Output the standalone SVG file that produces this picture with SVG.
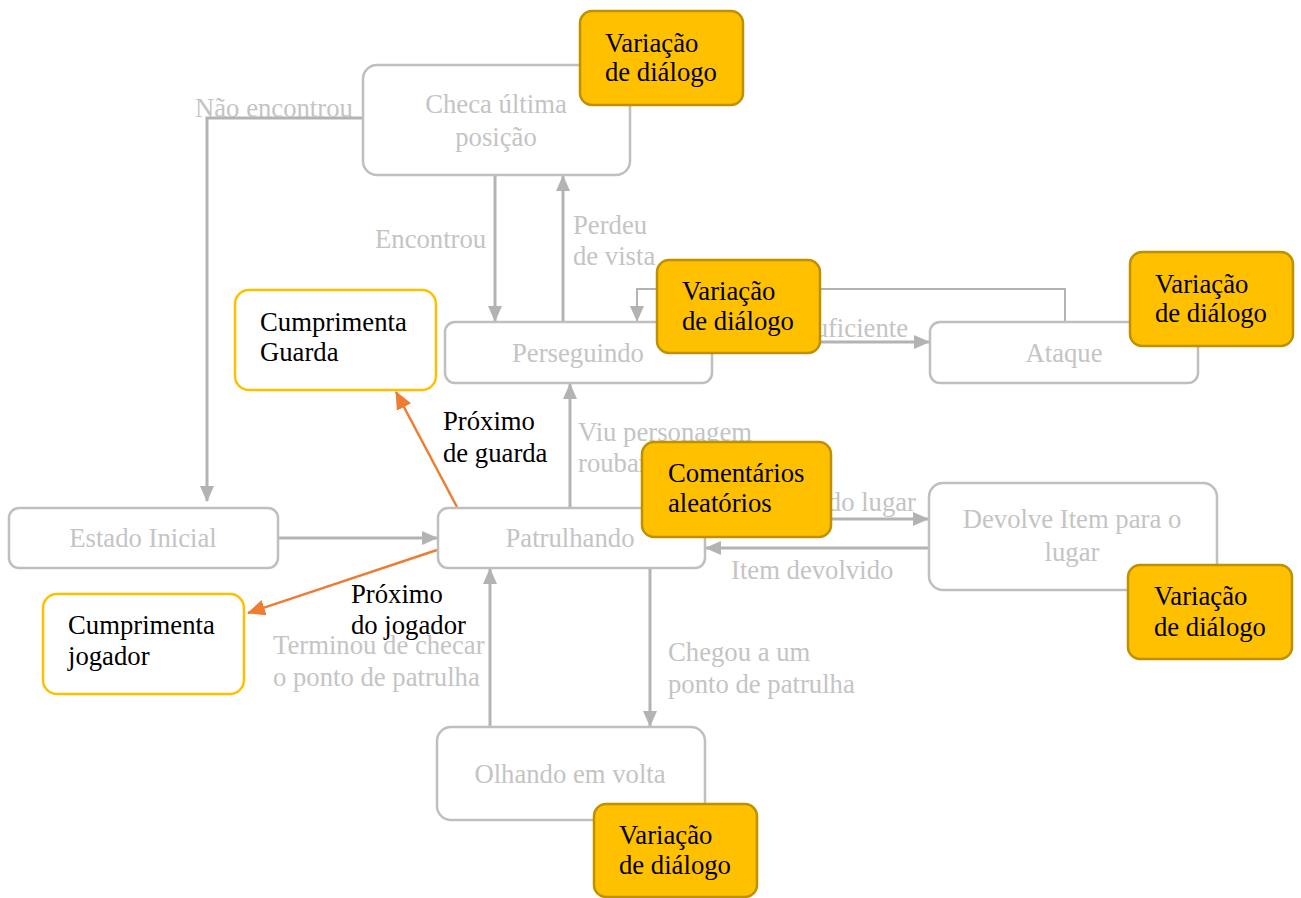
<svg xmlns="http://www.w3.org/2000/svg" width="1301" height="898" viewBox="0 0 1301 898">
<defs>
<marker id="ag" markerUnits="userSpaceOnUse" markerWidth="16" markerHeight="14" refX="15" refY="7" orient="auto"><path d="M0,0 L16,7 L0,14 Z" fill="#b3b3b3"/></marker>
<marker id="ao" markerUnits="userSpaceOnUse" markerWidth="18" markerHeight="16" refX="17" refY="8" orient="auto"><path d="M0,0 L18,8 L0,16 Z" fill="#ED7D31"/></marker>
</defs>
<rect width="1301" height="898" fill="#fff"/>
<g id="connectors" fill="none" stroke="#b3b3b3" stroke-width="3">
<path d="M363,118 H207 V501" marker-end="url(#ag)"/>
<path d="M495,175 V321" marker-end="url(#ag)"/>
<path d="M563,322 V176" marker-end="url(#ag)"/>
<path d="M1065,322 V289 H637 V321" stroke-width="2" marker-end="url(#ag)"/>
<path d="M712,342 H929" marker-end="url(#ag)"/>
<path d="M570,508 V384" marker-end="url(#ag)"/>
<path d="M278,538 H437" marker-end="url(#ag)"/>
<path d="M705,519 H928" marker-end="url(#ag)"/>
<path d="M929,548 H706" marker-end="url(#ag)"/>
<path d="M490,727 V569" marker-end="url(#ag)"/>
<path d="M650,568 V726" marker-end="url(#ag)"/>
<path d="M457,507 L396,392" stroke="#ED7D31" stroke-width="2.5" marker-end="url(#ao)"/>
<path d="M437,550 L248,613" stroke="#ED7D31" stroke-width="2.5" marker-end="url(#ao)"/>
<text stroke="none" fill="#c4c4c4" font-family="Liberation Serif" font-size="26.7" x="195" y="117">Não encontrou</text>
<text stroke="none" fill="#c4c4c4" font-family="Liberation Serif" font-size="26.7" x="375" y="248">Encontrou</text>
<text stroke="none" fill="#c4c4c4" font-family="Liberation Serif" font-size="26.7" x="573" y="234">Perdeu</text>
<text stroke="none" fill="#c4c4c4" font-family="Liberation Serif" font-size="26.7" x="573" y="265">de vista</text>
<text stroke="none" fill="#c4c4c4" font-family="Liberation Serif" font-size="26.7" x="908" y="337" text-anchor="end">suficiente</text>
<text stroke="none" fill="#c4c4c4" font-family="Liberation Serif" font-size="26.7" x="578" y="441">Viu personagem</text>
<text stroke="none" fill="#c4c4c4" font-family="Liberation Serif" font-size="26.7" x="578" y="472">roubar</text>
<text stroke="none" fill="#c4c4c4" font-family="Liberation Serif" font-size="26.7" x="916" y="511" text-anchor="end">do lugar</text>
<text stroke="none" fill="#c4c4c4" font-family="Liberation Serif" font-size="26.7" x="731" y="579">Item devolvido</text>
<text stroke="none" fill="#c4c4c4" font-family="Liberation Serif" font-size="26.7" x="273" y="654">Terminou de checar</text>
<text stroke="none" fill="#c4c4c4" font-family="Liberation Serif" font-size="26.7" x="273" y="686">o ponto de patrulha</text>
<text stroke="none" fill="#c4c4c4" font-family="Liberation Serif" font-size="26.7" x="668" y="661">Chegou a um</text>
<text stroke="none" fill="#c4c4c4" font-family="Liberation Serif" font-size="26.7" x="668" y="693">ponto de patrulha</text>
<text stroke="none" fill="#000" font-family="Liberation Serif" font-size="26.7" x="443" y="430">Próximo</text>
<text stroke="none" fill="#000" font-family="Liberation Serif" font-size="26.7" x="443" y="462">de guarda</text>
<text stroke="none" fill="#000" font-family="Liberation Serif" font-size="26.7" x="351" y="603">Próximo</text>
<text stroke="none" fill="#000" font-family="Liberation Serif" font-size="26.7" x="351" y="634">do jogador</text>
</g>
<g id="checa">
<rect x="363" y="65" width="267" height="110" rx="14" fill="#fff" stroke="#bfbfbf" stroke-width="2.5"/>
<text fill="#c4c4c4" font-family="Liberation Serif" font-size="26.7" x="496" y="113" text-anchor="middle">Checa última</text>
<text fill="#c4c4c4" font-family="Liberation Serif" font-size="26.7" x="496" y="146" text-anchor="middle">posição</text>
</g>
<g id="dlg-checa">
<rect x="580" y="11" width="163" height="94" rx="12" fill="#FFC000" stroke="#BF9000" stroke-width="2.5"/>
<text fill="#000" font-family="Liberation Serif" font-size="26.7" x="605" y="52">Variação</text>
<text fill="#000" font-family="Liberation Serif" font-size="26.7" x="605" y="81">de diálogo</text>
</g>
<g id="perseguindo">
<rect x="445" y="322" width="267" height="61" rx="10" fill="#fff" stroke="#bfbfbf" stroke-width="2.5"/>
<text fill="#c4c4c4" font-family="Liberation Serif" font-size="26.7" x="578" y="362" text-anchor="middle">Perseguindo</text>
</g>
<g id="dlg-perseguindo">
<rect x="657" y="260" width="163" height="93" rx="12" fill="#FFC000" stroke="#BF9000" stroke-width="2.5"/>
<text fill="#000" font-family="Liberation Serif" font-size="26.7" x="682" y="300">Variação</text>
<text fill="#000" font-family="Liberation Serif" font-size="26.7" x="682" y="330">de diálogo</text>
</g>
<g id="ataque">
<rect x="930" y="322" width="268" height="61" rx="10" fill="#fff" stroke="#bfbfbf" stroke-width="2.5"/>
<text fill="#c4c4c4" font-family="Liberation Serif" font-size="26.7" x="1064" y="362" text-anchor="middle">Ataque</text>
</g>
<g id="dlg-ataque">
<rect x="1130" y="252" width="163" height="94" rx="12" fill="#FFC000" stroke="#BF9000" stroke-width="2.5"/>
<text fill="#000" font-family="Liberation Serif" font-size="26.7" x="1155" y="293">Variação</text>
<text fill="#000" font-family="Liberation Serif" font-size="26.7" x="1155" y="322">de diálogo</text>
</g>
<g id="cumprimenta-guarda">
<rect x="235" y="290" width="201" height="100" rx="14" fill="#fff" stroke="#FFC000" stroke-width="2.5"/>
<text fill="#000" font-family="Liberation Serif" font-size="26.7" x="260" y="331">Cumprimenta</text>
<text fill="#000" font-family="Liberation Serif" font-size="26.7" x="260" y="361">Guarda</text>
</g>
<g id="estado-inicial">
<rect x="9" y="508" width="269" height="60" rx="10" fill="#fff" stroke="#bfbfbf" stroke-width="2.5"/>
<text fill="#c4c4c4" font-family="Liberation Serif" font-size="26.7" x="143" y="547" text-anchor="middle">Estado Inicial</text>
</g>
<g id="patrulhando">
<rect x="438" y="508" width="267" height="60" rx="10" fill="#fff" stroke="#bfbfbf" stroke-width="2.5"/>
<text fill="#c4c4c4" font-family="Liberation Serif" font-size="26.7" x="570" y="547" text-anchor="middle">Patrulhando</text>
</g>
<g id="comentarios">
<rect x="642" y="442" width="189" height="95" rx="12" fill="#FFC000" stroke="#BF9000" stroke-width="2.5"/>
<text fill="#000" font-family="Liberation Serif" font-size="26.7" x="668" y="482">Comentários</text>
<text fill="#000" font-family="Liberation Serif" font-size="26.7" x="668" y="512">aleatórios</text>
</g>
<g id="devolve">
<rect x="929" y="483" width="288" height="107" rx="14" fill="#fff" stroke="#bfbfbf" stroke-width="2.5"/>
<text fill="#c4c4c4" font-family="Liberation Serif" font-size="26.7" x="1072" y="528" text-anchor="middle">Devolve Item para o</text>
<text fill="#c4c4c4" font-family="Liberation Serif" font-size="26.7" x="1072" y="561" text-anchor="middle">lugar</text>
</g>
<g id="dlg-devolve">
<rect x="1128" y="565" width="164" height="94" rx="12" fill="#FFC000" stroke="#BF9000" stroke-width="2.5"/>
<text fill="#000" font-family="Liberation Serif" font-size="26.7" x="1154" y="605">Variação</text>
<text fill="#000" font-family="Liberation Serif" font-size="26.7" x="1154" y="636">de diálogo</text>
</g>
<g id="cumprimenta-jogador">
<rect x="43" y="594" width="201" height="100" rx="14" fill="#fff" stroke="#FFC000" stroke-width="2.5"/>
<text fill="#000" font-family="Liberation Serif" font-size="26.7" x="68" y="634">Cumprimenta</text>
<text fill="#000" font-family="Liberation Serif" font-size="26.7" x="68" y="665">jogador</text>
</g>
<g id="olhando">
<rect x="437" y="727" width="268" height="93" rx="14" fill="#fff" stroke="#bfbfbf" stroke-width="2.5"/>
<text fill="#c4c4c4" font-family="Liberation Serif" font-size="26.7" x="570" y="783" text-anchor="middle">Olhando em volta</text>
</g>
<g id="dlg-olhando">
<rect x="594" y="804" width="163" height="93" rx="12" fill="#FFC000" stroke="#BF9000" stroke-width="2.5"/>
<text fill="#000" font-family="Liberation Serif" font-size="26.7" x="619" y="844">Variação</text>
<text fill="#000" font-family="Liberation Serif" font-size="26.7" x="619" y="874">de diálogo</text>
</g>
</svg>
